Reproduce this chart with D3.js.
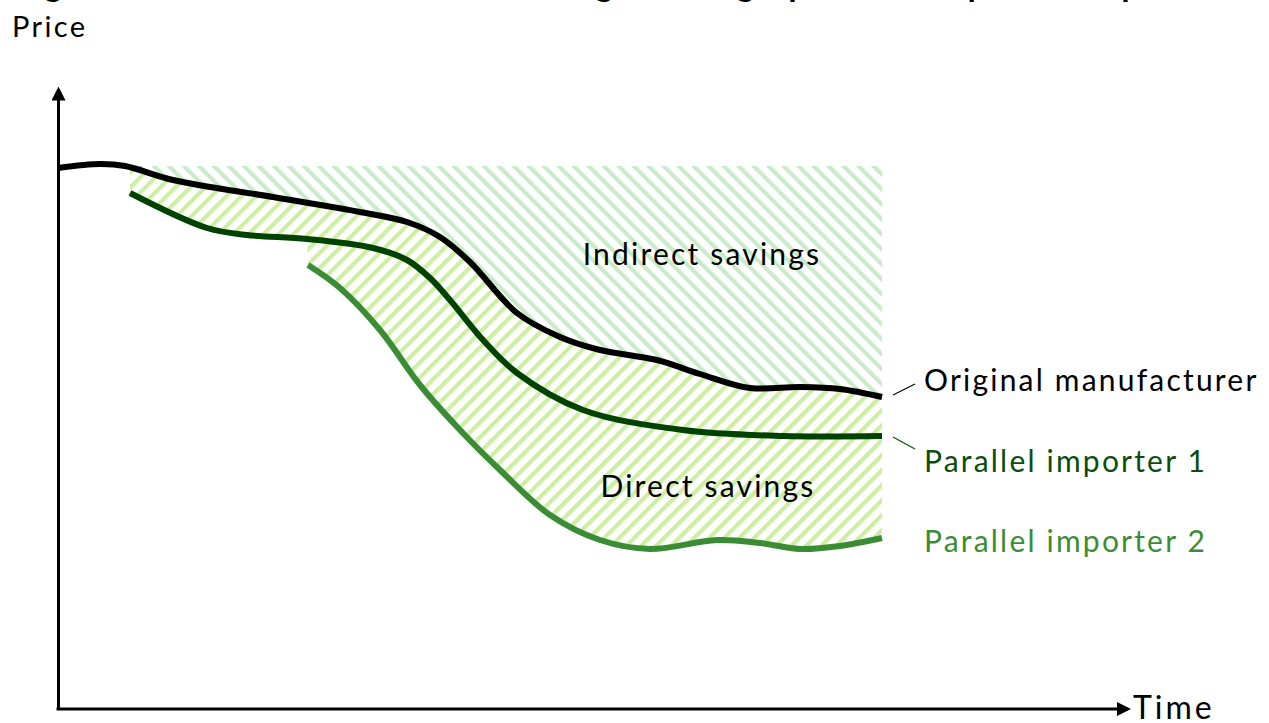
<!DOCTYPE html>
<html>
<head>
<meta charset="utf-8">
<script src="https://cdn.jsdelivr.net/npm/d3@7"></script>
<style>
  body { margin: 0; background: #fff; }
  svg { display: block; font-family: Lato, "Open Sans", sans-serif; }
  .lbl { font-size: 30px; letter-spacing: 2.2px; }
</style>
</head>
<body>
<svg width="1269" height="723"></svg>
<script>
// schematic data: time (t) and price (p), arbitrary units
const original = [
  [0, 54.1], [4.2, 54.5], [6.7, 54.3], [11.5, 52.9], [21.5, 51.2], [30.2, 49.7],
  [34.9, 48.7], [38.2, 47.2], [41.2, 44.7], [45.9, 39.6], [50.2, 37.2], [54.2, 35.9],
  [59.9, 34.9], [64.2, 33.5], [69.2, 32.1], [74.2, 32.2], [78.2, 32.0], [82.4, 31.2]
];
const importer1 = [
  [7.2, 51.6], [14.9, 48.1], [18.9, 47.4], [24.9, 47.0], [31.5, 46.1], [34.9, 44.9],
  [37.2, 43.1], [39.2, 40.9], [42.5, 36.9], [45.9, 33.6], [52.5, 29.9], [62.5, 27.9],
  [72.5, 27.3], [82.4, 27.3]
];
const importer2 = [
  [25.0, 44.4], [28.2, 42.1], [32.2, 37.9], [36.2, 32.4], [40.2, 27.9], [44.2, 23.9],
  [49.2, 19.4], [54.2, 16.9], [59.2, 16.0], [65.9, 16.9], [70.2, 16.6], [74.2, 16.0],
  [78.2, 16.3], [82.4, 17.1]
];
const savingsTop = 54.3;      // upper edge of the indirect savings band
const bandStart = 7.2;        // where the savings bands begin
const bandEnd = 82.4;
const seriesNames = ["Original manufacturer", "Parallel importer 1", "Parallel importer 2"];
const regionLabels = [
  { text: "Indirect savings", t: 64.4, p: 44.4 },
  { text: "Direct savings", t: 65.0, p: 21.2 }
];
const title = "Figure 3: Direct and indirect savings through parallel import competition";

const svg = d3.select("svg");
const x = d3.scaleLinear().domain([0, 107]).range([58, 1128]);
const y = d3.scaleLinear().domain([0, 62]).range([709, 89]);

const line = d3.line()
  .x(d => x(d[0]))
  .y(d => y(d[1]))
  .curve(d3.curveCatmullRom.alpha(0.5));

const defs = svg.append("defs");

function stripes(id, color, angle) {
  const p = defs.append("pattern")
    .attr("id", id)
    .attr("patternUnits", "userSpaceOnUse")
    .attr("width", 10.6)
    .attr("height", 10.6)
    .attr("patternTransform", "rotate(" + angle + ")");
  p.append("rect").attr("width", 4.2).attr("height", 10.6).attr("fill", color);
}
stripes("hatchIndirect", "#c9ebc9", -45);
stripes("hatchDirect", "#cdeea3", 45);

defs.append("clipPath").attr("id", "bandClip")
  .append("rect")
  .attr("x", x(bandStart)).attr("y", 0)
  .attr("width", x(bandEnd) - x(bandStart)).attr("height", 723);

defs.append("marker")
  .attr("id", "arrow")
  .attr("markerUnits", "userSpaceOnUse")
  .attr("markerWidth", 14).attr("markerHeight", 14)
  .attr("refX", 11).attr("refY", 7)
  .attr("orient", "auto")
  .append("path").attr("d", "M0,0L14,7L0,14Z").attr("fill", "#000");

// continue a path with L instead of M
const cont = d => d.replace(/^M/, "L");

// indirect savings: between the top line and the original price
const indirectPath =
  "M" + x(0) + "," + y(savingsTop) + "L" + x(bandEnd) + "," + y(savingsTop) +
  cont(line(original.slice().reverse())) + "Z";

// direct savings: between original price and the lowest importer price
const split = importer2[0][0];
const early1 = importer1.filter(d => d[0] <= split);
const directPath =
  line(original) +
  cont(line(importer2.slice().reverse())) +
  cont(line(early1.slice().reverse())) + "Z";

const bands = svg.append("g").attr("clip-path", "url(#bandClip)");
bands.append("path").attr("d", indirectPath).attr("fill", "url(#hatchIndirect)");
bands.append("path").attr("d", directPath).attr("fill", "url(#hatchDirect)");

const series = [
  { name: seriesNames[0], data: original, color: "#000000", text: "#000000", dy: -6, lead: -11 },
  { name: seriesNames[1], data: importer1, color: "#004200", text: "#0b4e0b", dy: 36, lead: 12 },
  { name: seriesNames[2], data: importer2, color: "#3a8d34", text: "#3a8d34", dy: 14, lead: null }
];

svg.append("g").selectAll("path")
  .data(series.slice().reverse())
  .join("path")
  .attr("d", d => line(d.data))
  .attr("fill", "none")
  .attr("stroke", d => d.color)
  .attr("stroke-width", 6);

// labels at the right end of each line
series.forEach(s => {
  const last = s.data[s.data.length - 1];
  const ex = x(last[0]);
  const ey = y(last[1]);
  if (s.lead) {
    const y0 = ey + (s.lead < 0 ? -2 : 1);
    svg.append("line")
      .attr("x1", ex + 11).attr("y1", y0)
      .attr("x2", ex + 33).attr("y2", y0 + s.lead)
      .attr("stroke", s.text).attr("stroke-width", 1.2);
  }
  svg.append("text").attr("class", "lbl")
    .attr("x", ex + 42).attr("y", ey + s.dy)
    .attr("fill", s.text)
    .text(s.name);
});

svg.append("g").selectAll("text")
  .data(regionLabels)
  .join("text")
  .attr("class", "lbl")
  .attr("x", d => x(d.t)).attr("y", d => y(d.p))
  .attr("text-anchor", "middle")
  .text(d => d.text);

// axes without ticks, ending in arrows
const xAxis = svg.append("g").attr("transform", "translate(0," + y(0) + ")")
  .call(d3.axisBottom(x).tickValues([]).tickSizeOuter(0));
const yAxis = svg.append("g").attr("transform", "translate(" + x(0) + ",0)")
  .call(d3.axisLeft(y).tickValues([]).tickSizeOuter(0));
[xAxis, yAxis].forEach(a => a.select(".domain")
  .attr("stroke", "#000").attr("stroke-width", 3)
  .attr("marker-end", "url(#arrow)"));
xAxis.select(".domain").attr("d", "M" + (x(0) - 1.5) + ",0H" + x(107));

svg.append("text").attr("x", 12).attr("y", 37)
  .style("font-size", "29px").style("letter-spacing", "2.4px").text("Price");
svg.append("text").attr("x", x(107) + 5).attr("y", y(0) + 10)
  .style("font-size", "32px").style("letter-spacing", "3px").text("Time");

// title sits mostly above the visible area, as in the source image
svg.append("text").attr("x", 12).attr("y", -4)
  .style("font-size", "34px").style("font-weight", "bold")
  .attr("textLength", 1240).attr("lengthAdjust", "spacing")
  .text(title);
</script>
</body>
</html>
